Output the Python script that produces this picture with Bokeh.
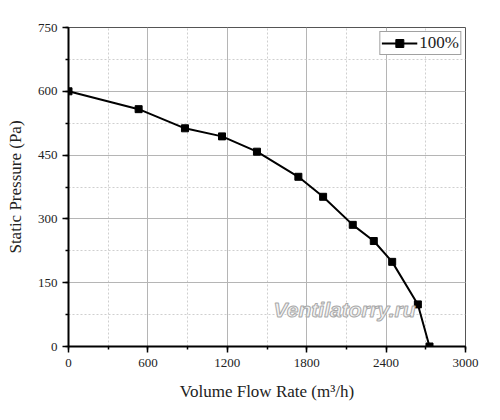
from bokeh.plotting import figure
from bokeh.models import Range1d, SingleIntervalTicker, Label, Legend, LegendItem
from bokeh.embed import file_html
from bokeh.resources import INLINE

flow = [0, 530, 880, 1160, 1424, 1737, 1924, 2148, 2307, 2446, 2640, 2728]
pressure = [600, 558, 513, 494, 458, 399, 352, 286, 248, 199, 99, 0]
series_name = "100%"
x_label = "Volume Flow Rate (m\u00b3/h)"
y_label = "Static Pressure (Pa)"
watermark = "Ventilatorry.ru"

SERIF = "Liberation Serif"

p = figure(width=484, height=404, output_backend="svg", toolbar_location=None,
           x_range=Range1d(0, 3000), y_range=Range1d(0, 750),
           frame_width=397, frame_height=319,
           min_border_left=68, min_border_top=27, min_border_right=19, min_border_bottom=58)
p.background_fill_color = "white"
p.border_fill_color = "white"
p.outline_line_color = "#555555"
p.outline_line_width = 1

p.xaxis.ticker = SingleIntervalTicker(interval=600, num_minor_ticks=2)
p.yaxis.ticker = SingleIntervalTicker(interval=150, num_minor_ticks=2)

for ax in (p.xaxis[0], p.yaxis[0]):
    ax.axis_line_color = "black"
    ax.axis_line_width = 2
    ax.major_tick_line_color = "black"
    ax.major_tick_line_width = 1.5
    ax.minor_tick_line_color = "black"
    ax.minor_tick_line_width = 1.5
    ax.major_tick_out = 6
    ax.major_tick_in = 0
    ax.minor_tick_out = 3
    ax.minor_tick_in = 0
    ax.major_label_text_font = SERIF
    ax.major_label_text_font_size = "13px"
    ax.major_label_text_color = "#222222"
    ax.axis_label_text_font = SERIF
    ax.axis_label_text_font_size = "17px"
    ax.axis_label_text_font_style = "normal"
    ax.axis_label_text_color = "#222222"

p.xaxis.axis_label = x_label
p.yaxis.axis_label = y_label
p.xaxis.major_label_standoff = 6
p.yaxis.major_label_standoff = 5
p.xaxis.axis_label_standoff = 12
p.yaxis.axis_label_standoff = 10

for g in (p.xgrid[0], p.ygrid[0]):
    g.grid_line_color = "#b5b5b5"
    g.grid_line_width = 1
    g.minor_grid_line_color = "#cfcfcf"
    g.minor_grid_line_dash = "2 2"
    g.minor_grid_line_width = 1

wm = Label(x=1550, y=86, text=watermark, text_font="Liberation Sans", text_font_size="21px",
           text_font_style="bold italic", text_color="#f4f4f4", text_alpha=1.0,
           text_baseline="middle", text_align="left",
           text_outline_color="#a8a8a8")
p.add_layout(wm)

ln = p.line(flow, pressure, line_color="black", line_width=2)
mk = p.scatter(flow, pressure, marker="square", size=7, fill_color="black", line_color="black")

legend = Legend(items=[LegendItem(label=series_name, renderers=[ln, mk])],
                location="top_right")
legend.label_text_font = SERIF
legend.label_text_font_size = "17px"
legend.label_text_color = "#222222"
legend.border_line_color = "#444444"
legend.border_line_width = 1
legend.padding = 1
legend.margin = 4
legend.spacing = 0
legend.glyph_width = 36
legend.glyph_height = 20
legend.label_height = 20
legend.label_standoff = 2
legend.background_fill_alpha = 1
p.add_layout(legend)

open("out.html", "w").write(file_html(p, INLINE))
